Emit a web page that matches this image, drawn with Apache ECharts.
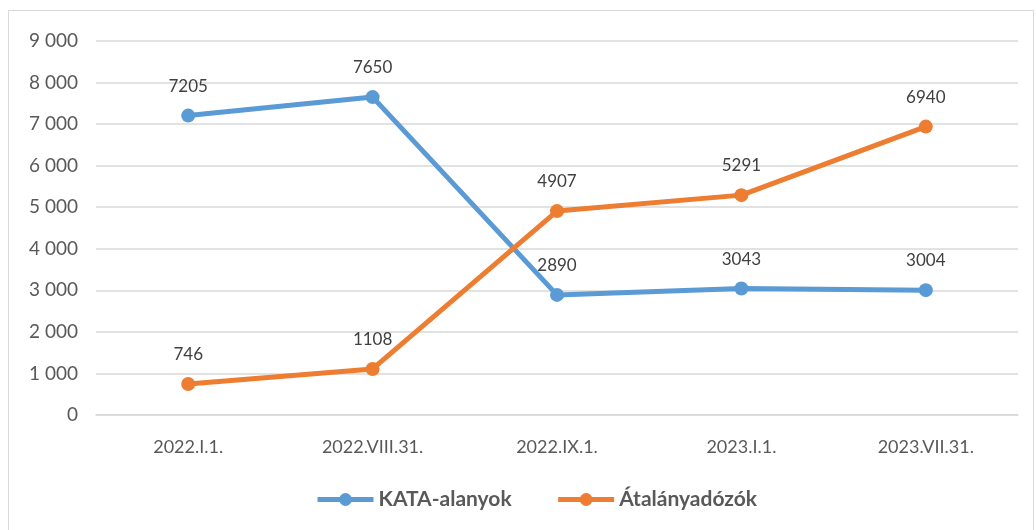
<!DOCTYPE html>
<html>
<head>
<meta charset="utf-8">
<script src="https://cdn.jsdelivr.net/npm/echarts@6/dist/echarts.min.js"></script>
<style>
  html, body { margin: 0; padding: 0; background: #fff; }
  #frame { position: absolute; left: 8px; top: 10px; width: 1026px; height: 530px; border: 1px solid #d9d9d9; box-sizing: border-box; }
  #main { position: absolute; left: 0; top: 0; width: 1036px; height: 530px; }
</style>
</head>
<body>
<div id="frame"></div>
<div id="main"></div>
<script>
  // időpontok
  const dates = ['2022.I.1.', '2022.VIII.31.', '2022.IX.1.', '2023.I.1.', '2023.VII.31.']
  // KATA-alanyok
  const kata = [7205, 7650, 2890, 3043, 3004]
  // Átalányadózók
  const atalany = [746, 1108, 4907, 5291, 6940]

  const font = 'Lato, "Open Sans", sans-serif'
  const myChart = echarts.init(document.getElementById('main'))

  function fmt(v) {
    return String(v).replace(/\B(?=(\d{3})+(?!\d))/g, ' ')
  }

  function lineSeries(name, data, color) {
    return {
      name: name,
      type: 'line',
      data: data,
      symbol: 'circle',
      symbolSize: 14,
      lineStyle: { width: 5, color: color },
      itemStyle: { color: color },
      label: {
        show: true,
        position: 'top',
        distance: 14,
        color: '#404040',
        fontSize: 17,
        fontFamily: font
      }
    }
  }

  myChart.setOption({
    animation: false,
    textStyle: { fontFamily: font },
    grid: { left: 96, right: 18, top: 41, bottom: 115 },
    legend: {
      bottom: 15,
      left: 310,
      itemWidth: 56,
      itemHeight: 16,
      itemGap: 44,
      lineStyle: { width: 5 },
      textStyle: { fontSize: 21, fontWeight: 'bold', color: '#595959', fontFamily: font },
      data: ['KATA-alanyok', 'Átalányadózók']
    },
    xAxis: {
      type: 'category',
      data: dates,
      axisLine: { lineStyle: { color: '#d9d9d9', width: 1.5 } },
      axisTick: { show: false },
      axisLabel: { color: '#595959', fontSize: 18, margin: 23, fontFamily: font }
    },
    yAxis: {
      type: 'value',
      min: 0,
      max: 9000,
      interval: 1000,
      axisLine: { show: false },
      axisTick: { show: false },
      splitLine: { lineStyle: { color: '#d9d9d9', width: 1.5 } },
      axisLabel: { color: '#595959', fontSize: 19, margin: 18, fontFamily: font, formatter: fmt }
    },
    series: [
      lineSeries('KATA-alanyok', kata, '#5b9bd5'),
      lineSeries('Átalányadózók', atalany, '#ed7d31')
    ]
  })
</script>
</body>
</html>
